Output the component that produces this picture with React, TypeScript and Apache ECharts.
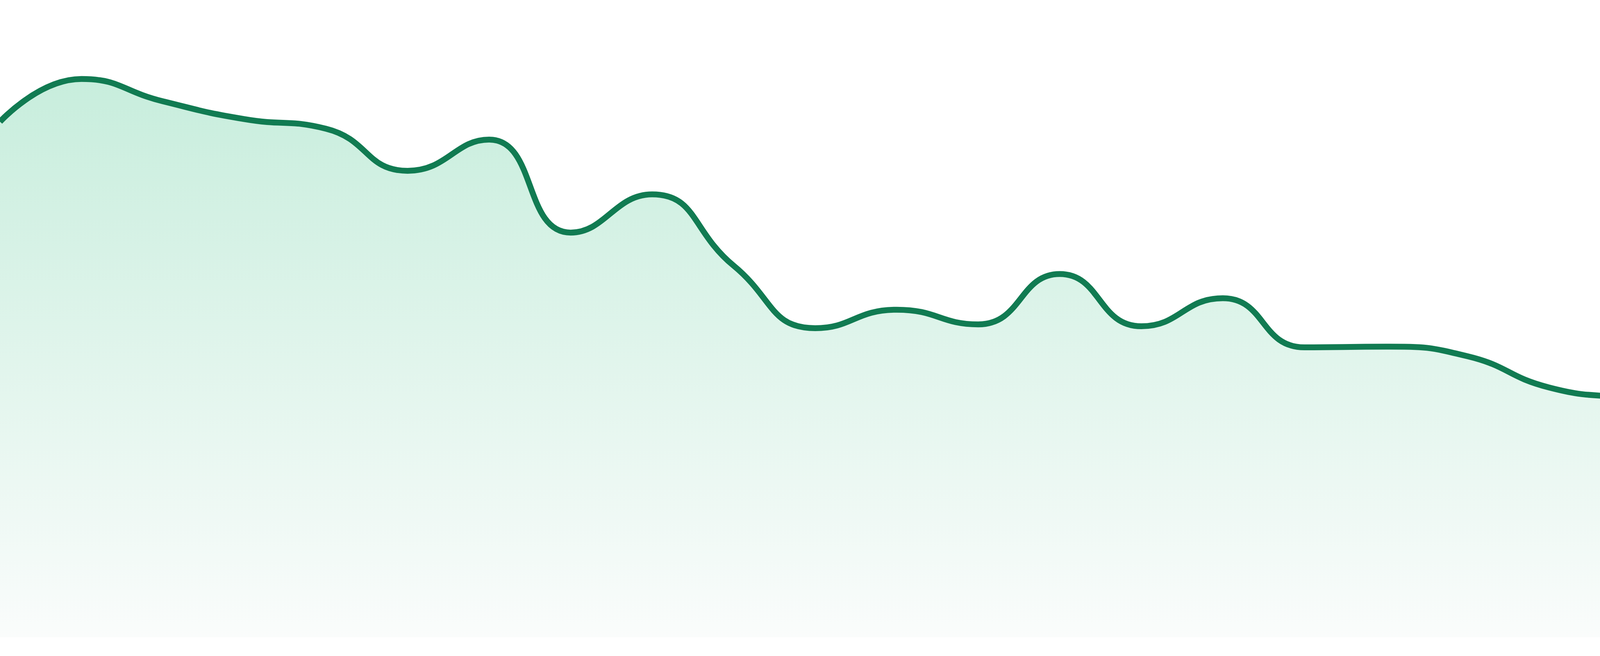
import React, { useEffect, useRef } from "react";
import * as echarts from "echarts";

const categories: string[] = [
  "1", "2", "3", "4", "5", "6", "7", "8", "9", "10", "11", "12",
  "13", "14", "15", "16", "17", "18", "19", "20", "21", "22", "23", "24",
];

const values: number[] = [
  80.9, 87.6, 84.1, 81.3, 79.8, 73.2, 78.1, 63.5, 69.5, 58.3, 48.5, 51.4,
  49.1, 57.0, 48.8, 53.2, 45.5, 45.6, 44.1, 39.2, 37.5, 36.2, 37.3, 40.9,
];

const LINE_COLOR = "#117B52";
const FILL_TOP = "#B0E6CE";
const FILL_BOTTOM = "#F8FBFA";

export default function App() {
  const ref = useRef<HTMLDivElement>(null);

  useEffect(() => {
    if (!ref.current) return;
    const chart = echarts.init(ref.current, undefined, { renderer: "svg" });
    chart.setOption({
      animation: false,
      backgroundColor: "#ffffff",
      grid: { left: 0, right: 0, top: 0, bottom: 48, containLabel: false },
      xAxis: {
        type: "category",
        data: categories,
        boundaryGap: false,
        show: false,
      },
      yAxis: {
        type: "value",
        min: 0,
        max: 100,
        show: false,
        splitLine: { show: false },
      },
      series: [
        {
          type: "line",
          data: values,
          smooth: true,
          symbol: "none",
          lineStyle: { color: LINE_COLOR, width: 15 },
          areaStyle: {
            color: new echarts.graphic.LinearGradient(0, 0, 0, 1, [
              { offset: 0, color: FILL_TOP },
              { offset: 1, color: FILL_BOTTOM },
            ]),
          },
        },
      ],
    });
    return () => chart.dispose();
  }, []);

  return (
    <div
      ref={ref}
      style={{
        position: "fixed",
        left: 0,
        top: 0,
        width: 4800,
        height: 1680,
        background: "#ffffff",
      }}
    />
  );
}
